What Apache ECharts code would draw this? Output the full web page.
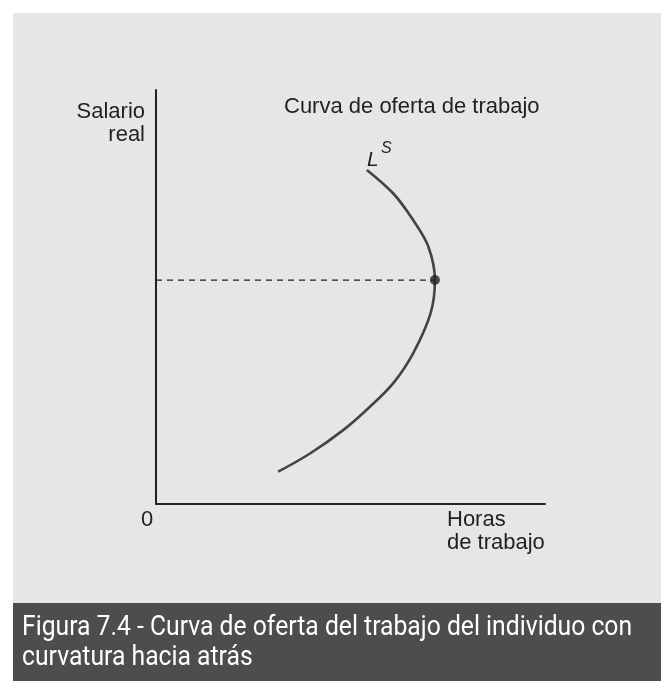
<!DOCTYPE html>
<html>
<head>
<meta charset="utf-8">
<title>Curva de oferta de trabajo</title>
<script src="https://cdn.jsdelivr.net/npm/echarts@6/dist/echarts.min.js"></script>
<style>
  html, body { margin: 0; padding: 0; background: #fff; }
  #chart { width: 661px; height: 681px; }
</style>
</head>
<body>
<div id="chart"></div>
<script>
// curva de oferta (horas, salario), escala 0-100
var curveHours = [54.2, 61.0, 66.1, 70.0, 71.7, 70.6, 66.1, 61.0, 55.0, 48.2, 39.6, 31.4];
var curveWage = [80.7, 75.0, 68.6, 62.2, 54.1, 46.1, 36.4, 29.2, 23.5, 17.9, 12.2, 7.8];
// punto donde la curva se dobla hacia atras
var peakHours = 71.7;
var peakWage = 54.1;

var chart = echarts.init(document.getElementById("chart"));

var curveData = curveHours.map(function (h, i) {
  return [h, curveWage[i]];
});

var labelFont = "'Liberation Sans', Arial, sans-serif";
var captionFont = "27px Roboto, sans-serif";
var ink = "#231f20";

var option = {
  backgroundColor: "#ffffff",
  animation: false,
  grid: { left: 156, top: 90, width: 389, height: 414 },
  xAxis: {
    type: "value",
    min: 0,
    max: 100,
    axisLine: { show: true, lineStyle: { color: "#222", width: 2 } },
    axisTick: { show: false },
    axisLabel: { show: false },
    splitLine: { show: false },
  },
  yAxis: {
    type: "value",
    min: 0,
    max: 100,
    axisLine: { show: true, lineStyle: { color: "#222", width: 2 } },
    axisTick: { show: false },
    axisLabel: { show: false },
    splitLine: { show: false },
  },
  graphic: [
    { type: "rect", z: -10, shape: { x: 13, y: 13, width: 648, height: 668 }, style: { fill: "#e6e6e6" } },
    { type: "rect", z: -9, shape: { x: 13, y: 603, width: 648, height: 78 }, style: { fill: "#4d4d4d" } },
    { type: "text", x: 145, y: 112, style: { text: "Salario", font: "22px " + labelFont, fill: ink, align: "right", verticalAlign: "middle" } },
    { type: "text", x: 145, y: 135, style: { text: "real", font: "22px " + labelFont, fill: ink, align: "right", verticalAlign: "middle" } },
    { type: "text", x: 284, y: 107, style: { text: "Curva de oferta de trabajo", font: "22px " + labelFont, fill: ink, align: "left", verticalAlign: "middle" } },
    { type: "text", x: 367, y: 160, style: { text: "L", font: "italic 21px " + labelFont, fill: ink, align: "left", verticalAlign: "middle" } },
    { type: "text", x: 381, y: 149, style: { text: "S", font: "italic 16px " + labelFont, fill: ink, align: "left", verticalAlign: "middle" } },
    { type: "text", x: 147, y: 520, style: { text: "0", font: "22px " + labelFont, fill: ink, align: "center", verticalAlign: "middle" } },
    { type: "text", x: 447, y: 520, style: { text: "Horas", font: "22px " + labelFont, fill: ink, align: "left", verticalAlign: "middle" } },
    { type: "text", x: 447, y: 543, style: { text: "de trabajo", font: "22px " + labelFont, fill: ink, align: "left", verticalAlign: "middle" } },
    // pie de figura: letra estrecha, se imita comprimiendo en horizontal
    { type: "text", x: 22, y: 628, scaleX: 0.915, style: { text: "Figura 7.4 - Curva de oferta del trabajo del individuo con", font: captionFont, fill: "#ffffff", align: "left", verticalAlign: "middle" } },
    { type: "text", x: 22, y: 658, scaleX: 0.915, style: { text: "curvatura hacia atrás", font: captionFont, fill: "#ffffff", align: "left", verticalAlign: "middle" } },
  ],
  series: [
    {
      name: "guia",
      type: "line",
      data: [[0, peakWage], [peakHours, peakWage]],
      showSymbol: false,
      lineStyle: { color: "#222", width: 1.3, type: [6, 5] },
      z: 2,
    },
    {
      name: "oferta",
      type: "line",
      data: curveData,
      smooth: 0.35,
      showSymbol: false,
      lineStyle: { color: "#444", width: 2.6 },
      z: 3,
    },
    {
      name: "pico",
      type: "scatter",
      data: [[peakHours, peakWage]],
      symbolSize: 10,
      itemStyle: { color: "#222" },
      z: 4,
    },
  ],
};

chart.setOption(option);
</script>
</body>
</html>
